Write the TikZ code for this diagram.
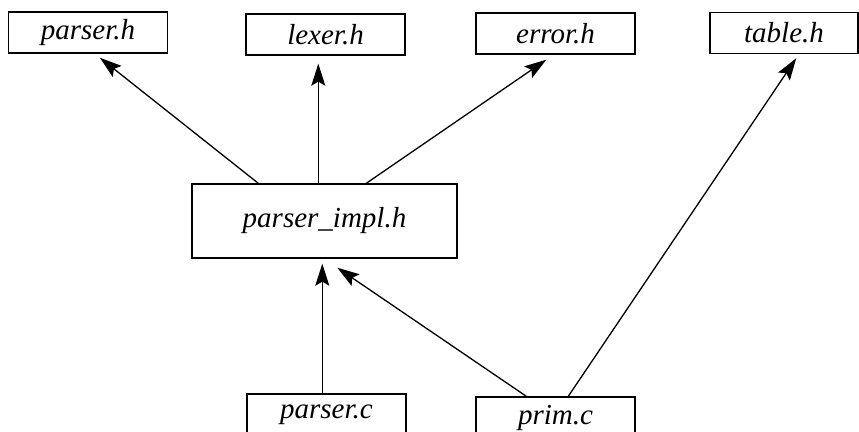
\documentclass[tikz,border=0pt]{standalone}
\usepackage{fontspec}
\setmainfont{Liberation Serif}
\usetikzlibrary{arrows.meta,calc}
\begin{document}
\begin{tikzpicture}[x=0.5pt,y=-0.5pt,
  file/.style={draw,line width=0.7pt,inner sep=0pt,minimum width=79.5pt,minimum height=20.5pt,font=\fontsize{14.5}{16}\selectfont\itshape},
  arr/.style={line width=0.65pt,-{Stealth[length=11pt,width=7pt,inset=2pt]}}]
\useasboundingbox (0,0) rectangle (859,432);
\clip (0,0) rectangle (859,432);
\fill[white] (0,0) rectangle (859,432);
\node[file] (ph) at (88,32.5) {parser.h};
\node[file] (lh) at (325.5,34.5) {lexer.h};
\node[file] (eh) at (555.5,33.5) {error.h};
\node[file,minimum width=74pt] (th) at (784,33) {table.h};
\node[file,minimum width=132.5pt,minimum height=37pt] (pi) at (324.5,221) {parser\_impl.h};
\node[file] (pc) at (326.5,414.5) {parser.c};
\node[file] (pr) at (555.5,417.5) {prim.c};
\draw[arr] ($(pi.north west)+(67,0)$) -- ($(ph.south west)+(92,4)$);
\draw[arr] ($(pi.north west)+(127,0)$) -- ($(lh.south west)+(73,8)$);
\draw[arr] ($(pi.north west)+(175,0)$) -- ($(eh.south west)+(71,5)$);
\draw[arr] ($(pr.north west)+(93,0)$) -- ($(th.south west)+(87,4)$);
\draw[arr] ($(pc.north west)+(76,0)$) -- ($(pi.south west)+(131,5)$);
\draw[arr] ($(pr.north west)+(51,0)$) -- ($(pi.south west)+(146,9)$);
\end{tikzpicture}
\end{document}
